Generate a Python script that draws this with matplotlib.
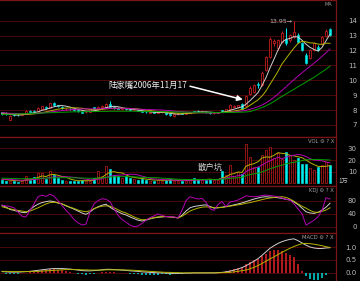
import numpy as np
import matplotlib.pyplot as plt

# ---- price data (one entry per trading day) ----
open_ = [7.85, 7.8, 7.35, 7.72, 7.7, 7.7, 7.75, 7.95, 7.95, 7.82,
         8.08, 8.2, 8.15, 8.45, 8.32, 8.2, 8.05, 8.08, 8.05, 8.0,
         7.9, 7.85, 7.9, 8.18, 8.1, 8.18, 8.22, 8.38, 8.22, 8.15,
         8.08, 8.12, 8.08, 7.98, 8.0, 7.95, 7.9, 7.82, 7.86, 7.8,
         7.85, 7.85, 7.75, 7.58, 7.72, 7.8, 7.76, 7.8, 7.92, 7.95,
         7.88, 7.9, 7.85, 7.77, 7.8, 8.0, 7.96, 8.05, 8.22, 8.2,
         8.42, 8.25, 9.05, 9.22, 9.72, 9.7, 10.72, 11.58, 12.5, 12.2,
         12.6, 12.8, 12.72, 12.92, 13.05, 12.5, 11.72, 11.5, 12.05, 12.25,
         12.42, 12.95, 13.45]
close = [7.75, 7.72, 7.6, 7.66, 7.65, 7.75, 7.93, 7.88, 7.88, 8.12,
         8.27, 8.12, 8.48, 8.35, 8.25, 8.12, 8.1, 8.04, 7.98, 7.94,
         7.82, 7.9, 8.05, 8.1, 8.2, 8.28, 8.42, 8.22, 8.15, 8.07,
         8.12, 8.05, 8.0, 8.02, 7.95, 7.88, 7.84, 7.86, 7.8, 7.85,
         7.92, 7.72, 7.66, 7.74, 7.78, 7.76, 7.82, 7.86, 7.88, 7.9,
         7.93, 7.84, 7.78, 7.82, 7.85, 7.95, 8.08, 8.32, 8.3, 8.32,
         8.1, 8.92, 9.5, 9.65, 9.66, 10.52, 11.55, 12.75, 12.62, 12.7,
         13.15, 12.52, 13.05, 13.22, 12.6, 12.05, 11.18, 12.0, 12.5, 12.05,
         12.9, 13.3, 13.02]
high = [7.9, 7.85, 7.65, 7.75, 7.75, 7.8, 7.98, 8.0, 7.98, 8.18,
        8.3, 8.25, 8.5, 8.55, 8.35, 8.25, 8.15, 8.12, 8.08, 8.02,
        7.92, 7.95, 8.08, 8.22, 8.25, 8.32, 8.45, 8.6, 8.25, 8.18,
        8.15, 8.15, 8.1, 8.05, 8.03, 7.98, 7.93, 7.9, 7.88, 7.88,
        7.95, 7.88, 7.78, 7.78, 7.82, 7.83, 7.85, 7.9, 7.95, 7.98,
        7.96, 7.93, 7.88, 7.85, 7.88, 8.03, 8.1, 8.38, 8.35, 8.36,
        8.45, 8.98, 9.6, 9.72, 9.85, 10.6, 11.62, 12.9, 12.75, 12.8,
        13.3, 13.5, 13.1, 13.95, 13.2, 12.6, 11.85, 12.1, 12.6, 12.4,
        13.0, 13.45, 13.5]
low = [7.7, 7.65, 7.3, 7.6, 7.6, 7.65, 7.72, 7.85, 7.84, 7.8,
       8.05, 8.08, 8.12, 8.3, 8.2, 8.1, 8.0, 8.0, 7.95, 7.9,
       7.78, 7.82, 7.88, 8.05, 8.08, 8.15, 8.2, 8.2, 8.1, 8.04,
       8.05, 8.02, 7.97, 7.95, 7.92, 7.85, 7.82, 7.8, 7.78, 7.78,
       7.83, 7.7, 7.62, 7.55, 7.7, 7.73, 7.74, 7.78, 7.85, 7.87,
       7.85, 7.82, 7.75, 7.75, 7.78, 7.9, 7.93, 8.0, 8.18, 8.15,
       8.05, 8.2, 9.0, 9.15, 9.45, 9.62, 10.6, 11.5, 12.3, 12.05,
       12.5, 12.4, 12.6, 12.85, 12.5, 11.95, 11.1, 11.4, 11.95, 11.98,
       12.35, 12.9, 12.95]

# price moving averages as drawn on the chart
ma5 = [7.75, 7.74, 7.7, 7.68, 7.66, 7.68, 7.72, 7.76, 7.82, 7.88,
       7.98, 8.04, 8.14, 8.22, 8.28, 8.3, 8.26, 8.2, 8.12, 8.05,
       7.98, 7.93, 7.92, 7.95, 8.0, 8.08, 8.16, 8.22, 8.25, 8.22,
       8.16, 8.1, 8.06, 8.04, 8.0, 7.96, 7.92, 7.88, 7.85, 7.84,
       7.84, 7.82, 7.78, 7.75, 7.72, 7.74, 7.77, 7.8, 7.84, 7.87,
       7.88, 7.88, 7.86, 7.84, 7.82, 7.84, 7.9, 7.98, 8.06, 8.14,
       8.22, 8.39, 8.63, 8.9, 9.17, 9.65, 10.18, 10.83, 11.42, 12.03,
       12.55, 12.75, 12.81, 12.93, 12.91, 12.69, 12.42, 12.21, 12.07, 11.96,
       12.2, 12.65, 13.1]
ma10 = [7.8, 7.78, 7.76, 7.74, 7.72, 7.71, 7.71, 7.72, 7.74, 7.77,
        7.82, 7.88, 7.94, 8.0, 8.06, 8.1, 8.13, 8.15, 8.15, 8.14,
        8.12, 8.08, 8.04, 8.02, 8.02, 8.04, 8.08, 8.1, 8.12, 8.12,
        8.12, 8.12, 8.11, 8.1, 8.07, 8.04, 8.01, 7.97, 7.93, 7.9,
        7.88, 7.86, 7.84, 7.81, 7.79, 7.78, 7.78, 7.79, 7.8, 7.81,
        7.82, 7.82, 7.82, 7.82, 7.83, 7.85, 7.87, 7.9, 7.93, 7.98,
        8.04, 8.14, 8.32, 8.5, 8.68, 8.94, 9.28, 9.73, 10.16, 10.6,
        11.1, 11.46, 11.82, 12.17, 12.47, 12.62, 12.58, 12.51, 12.5, 12.43,
        12.41, 12.49, 12.48]
ma20 = [7.82, 7.8, 7.78, 7.77, 7.76, 7.75, 7.75, 7.76, 7.77, 7.79,
        7.81, 7.84, 7.87, 7.9, 7.93, 7.96, 7.99, 8.02, 8.04, 8.06,
        8.07, 8.08, 8.08, 8.08, 8.08, 8.09, 8.1, 8.11, 8.12, 8.12,
        8.12, 8.11, 8.1, 8.08, 8.06, 8.05, 8.04, 8.03, 8.02, 8.01,
        8.0, 7.98, 7.96, 7.93, 7.91, 7.89, 7.87, 7.85, 7.84, 7.83,
        7.82, 7.82, 7.81, 7.81, 7.81, 7.82, 7.83, 7.85, 7.87, 7.9,
        7.93, 7.98, 8.05, 8.13, 8.22, 8.34, 8.48, 8.66, 8.86, 9.08,
        9.32, 9.56, 9.8, 10.04, 10.28, 10.5, 10.72, 10.94, 11.15, 11.36,
        11.6, 11.85, 12.1]
ma60 = [7.7, 7.71, 7.72, 7.73, 7.74, 7.75, 7.76, 7.77, 7.78, 7.79,
        7.8, 7.81, 7.82, 7.83, 7.84, 7.85, 7.86, 7.87, 7.88, 7.88,
        7.89, 7.89, 7.9, 7.9, 7.9, 7.91, 7.91, 7.92, 7.92, 7.92,
        7.92, 7.92, 7.92, 7.92, 7.91, 7.91, 7.91, 7.9, 7.9, 7.9,
        7.89, 7.89, 7.88, 7.88, 7.87, 7.87, 7.86, 7.86, 7.86, 7.85,
        7.85, 7.85, 7.85, 7.84, 7.84, 7.84, 7.84, 7.84, 7.84, 7.85,
        7.86, 7.87, 7.9, 7.98, 8.07, 8.17, 8.28, 8.42, 8.58, 8.75,
        8.92, 9.08, 9.24, 9.4, 9.56, 9.72, 9.88, 10.04, 10.2, 10.38,
        10.56, 10.74, 10.95]

# ---- volume (万手) ----
volume = [3, 2.5, 2, 2, 1.5, 2.5, 6.3, 3, 5.5, 8.5,
          8.5, 4, 10.5, 7, 5, 3, 2, 2, 2.5, 2,
          3, 2, 2.5, 4.5, 10.5, 6, 14.5, 12.5, 7, 6,
          5, 6, 5, 4, 3, 3.5, 3, 2.5, 2.5, 3,
          2.5, 3, 3.5, 2.5, 2, 2, 2.5, 3, 4.5, 3.5,
          3, 3, 4, 3, 3, 10.5, 7, 15.5, 6, 10,
          8, 34, 22.5, 14, 14.3, 24, 28.5, 31, 22, 26,
          21, 27, 24, 20, 22, 17, 17, 13, 11.5, 14.3,
          16, 18.5, 15.5]
vol_ma5 = [3.5, 3.2, 2.8, 2.5, 2.3, 2.1, 2.9, 3.0, 3.8, 5.2,
           6.4, 5.9, 7.4, 7.7, 7.0, 5.9, 5.5, 3.8, 2.9, 2.3,
           2.3, 2.3, 2.4, 2.8, 4.5, 5.1, 7.6, 9.6, 10.1, 9.2,
           9.0, 7.3, 5.8, 5.2, 4.6, 4.3, 3.7, 3.2, 2.9, 2.9,
           2.7, 2.7, 2.9, 2.8, 2.7, 2.6, 2.5, 2.4, 2.9, 3.1,
           3.3, 3.4, 3.6, 3.3, 3.2, 4.7, 5.5, 7.7, 8.4, 9.8,
           9.4, 14.7, 16.1, 16.9, 18.6, 21.8, 22.7, 22.4, 24.0, 26.3,
           25.7, 25.4, 24.0, 23.6, 22.8, 22.0, 20.0, 17.8, 16.1, 14.6,
           14.4, 14.7, 15.2]
vol_ma10 = [3.6, 3.5, 3.3, 3.1, 2.9, 2.7, 3.0, 3.0, 3.3, 3.7,
            4.3, 4.4, 5.2, 5.4, 5.6, 5.6, 5.7, 5.5, 5.2, 4.7,
            4.2, 3.6, 3.1, 3.1, 3.6, 3.9, 5.1, 6.2, 6.6, 7.0,
            7.2, 7.6, 7.8, 7.8, 7.3, 6.2, 5.4, 4.3, 3.9, 3.6,
            3.4, 3.1, 3.0, 2.8, 2.8, 2.7, 2.6, 2.6, 2.8, 2.9,
            2.9, 2.9, 3.1, 3.2, 3.3, 4.1, 4.5, 5.6, 5.9, 6.6,
            7.1, 10.1, 11.9, 12.9, 14.0, 15.7, 17.9, 19.3, 21.0, 22.3,
            21.0, 22.5, 23.5, 24.1, 24.9, 24.2, 23.0, 21.2, 19.9, 19.8,
            19.3, 18.5, 17.5]
vol_ma20 = [4.5, 4.4, 4.3, 4.2, 4.1, 4.0, 4.1, 4.1, 4.2, 4.3,
            4.5, 4.5, 4.7, 4.8, 4.9, 4.9, 4.9, 4.8, 4.8, 4.7,
            4.6, 4.5, 4.4, 4.4, 4.6, 4.7, 5.1, 5.5, 5.6, 5.8,
            5.8, 5.8, 5.7, 5.6, 5.4, 5.2, 5.1, 5.0, 4.9, 4.8,
            4.5, 4.3, 4.1, 3.8, 3.6, 3.5, 3.4, 3.3, 3.3, 3.3,
            3.3, 3.3, 3.4, 3.4, 3.4, 3.7, 3.9, 4.4, 4.6, 4.9,
            5.2, 6.6, 7.6, 8.2, 8.8, 9.8, 11.1, 12.6, 13.6, 14.8,
            15.6, 16.8, 17.5, 18.0, 18.9, 19.5, 20.1, 20.4, 20.5, 20.6,
            20.3, 20.2, 20.0]

# ---- KDJ ----
kdj_k = [66, 60, 53, 50, 47, 44, 43, 52, 62, 69,
         74, 77, 79, 77, 73, 70, 64, 59, 54, 48,
         42, 38, 45, 55, 61, 66, 69, 60, 52, 46,
         40, 36, 30, 25, 20, 17.5, 20, 24, 27, 29,
         30, 31, 30, 29, 27, 35, 48, 58, 62, 64,
         66, 67, 62, 57, 58, 60, 62, 64, 67, 70,
         73, 77, 81, 85, 88, 91, 92, 91, 90, 89,
         87, 84, 82, 76, 68, 57, 46, 42, 41, 44,
         51, 60, 72]
kdj_d = [61.5, 58, 55, 52, 50, 48, 46, 48, 53, 58,
         64, 70, 74, 75, 73, 70, 65, 60, 56, 51,
         48, 46, 49, 55, 60, 63, 64, 63, 58, 52,
         46, 42, 36, 30, 25, 21, 22, 25, 28, 30,
         31, 31, 30, 29, 27, 32, 40, 48, 53, 57,
         60, 61, 60, 59, 58.5, 59, 61, 63, 65, 67,
         69, 72, 74, 77, 80, 83, 86, 88, 90, 91,
         92, 90, 85, 78, 70, 63, 57, 50, 45, 44,
         47, 51, 58]
kdj_j = [66, 64, 62, 58, 45, 32, 30, 50, 70, 92,
         97, 93, 100, 94, 80, 65, 50, 38, 22, 12,
         5, 8, 45, 70, 80, 86, 84, 77, 55, 35,
         22, 14, 5, 0, 2, 10, 20, 28, 33, 39,
         35, 31, 31, 30, 27, 50, 80, 92, 88, 85,
         87, 75, 55, 50, 68, 77, 62, 76, 78, 82,
         88, 95, 93, 92, 93, 96, 97, 96, 94, 92,
         88, 84, 82, 70, 55, 40, 5, 12, 20, 30,
         50, 89, 85]

# ---- MACD ----
dif = [0.04, 0.03, 0.02, 0.02, 0.02, 0.03, 0.04, 0.05, 0.07, 0.09,
       0.11, 0.13, 0.15, 0.16, 0.16, 0.16, 0.15, 0.14, 0.12, 0.1,
       0.08, 0.07, 0.07, 0.08, 0.09, 0.11, 0.13, 0.13, 0.12, 0.11,
       0.1, 0.09, 0.07, 0.06, 0.05, 0.03, 0.02, 0.01, 0.0, -0.01,
       -0.01, -0.02, -0.03, -0.03, -0.03, -0.03, -0.02, -0.02, -0.01, -0.01,
       -0.01, -0.01, -0.01, -0.01, 0.0, 0.01, 0.03, 0.06, 0.1, 0.14,
       0.2, 0.27, 0.36, 0.45, 0.55, 0.68, 0.82, 0.96, 1.06, 1.15,
       1.22, 1.27, 1.31, 1.33, 1.26, 1.17, 1.08, 1.01, 0.97, 0.95,
       0.95, 0.97, 0.98]
dea = [0.05, 0.05, 0.04, 0.04, 0.04, 0.04, 0.04, 0.04, 0.05, 0.05,
       0.06, 0.07, 0.08, 0.09, 0.1, 0.11, 0.12, 0.12, 0.12, 0.12,
       0.11, 0.11, 0.1, 0.1, 0.1, 0.1, 0.11, 0.11, 0.11, 0.11,
       0.11, 0.1, 0.1, 0.09, 0.08, 0.07, 0.06, 0.05, 0.04, 0.03,
       0.02, 0.01, 0.01, 0.0, 0.0, -0.01, -0.01, -0.01, -0.01, -0.01,
       -0.01, -0.01, -0.01, -0.01, -0.01, 0.0, 0.0, 0.01, 0.03, 0.05,
       0.08, 0.1, 0.15, 0.21, 0.28, 0.36, 0.45, 0.54, 0.62, 0.71,
       0.8, 0.88, 0.96, 1.03, 1.09, 1.14, 1.15, 1.14, 1.12, 1.09,
       1.06, 1.02, 0.99]

N = len(close)
W, H = 360, 281
XRIGHT = 336          # pixel where the right scale column starts

RED = '#c41e1e'
VRED = '#a81818'
CYAN = '#00f0f0'
GRID = '#4a0808'
BORDER = '#7c1414'
LABEL = '#bcbcbc'
WHITE_L = '#cfcfcf'
YELLOW_L = '#b4b400'
MAGENTA_L = '#b400b4'
GREEN_L = '#00a000'
CJK = ['Noto Sans CJK SC', 'DejaVu Sans']

plt.rcParams['font.family'] = ['DejaVu Sans']

fig = plt.figure(figsize=(W / 100, H / 100), dpi=100, facecolor='black')


def panel(top, bottom):
    """Axes spanning pixel rows top..bottom, left of the scale column"""
    return fig.add_axes([0, 1 - bottom / H, XRIGHT / W, (bottom - top) / H],
                        facecolor='black')


def style(ax, ylim, ticks, labels):
    ax.set_xlim(-0.5, N + 0.5)
    ax.set_ylim(*ylim)
    ax.set_xticks([])
    ax.set_yticks(ticks)
    ax.set_yticklabels(labels)
    ax.yaxis.tick_right()
    ax.tick_params(axis='y', length=0, pad=15, labelsize=5, labelcolor=LABEL)
    for t in ax.get_yticklabels():
        t.set_horizontalalignment('right')
    ax.grid(axis='y', color=GRID, linewidth=0.7)
    ax.set_axisbelow(True)
    ax.spines['left'].set_visible(False)
    for s in ['top', 'right', 'bottom']:
        ax.spines[s].set_color(BORDER)
        ax.spines[s].set_linewidth(0.9)


x = np.arange(N)
o = np.array(open_)
c = np.array(close)
hi = np.array(high)
lo = np.array(low)
up = c >= o

# 1. Candlesticks + MA
ax1 = panel(0, 137)
style(ax1, (6.19, 15.39), range(7, 15), [str(v) for v in range(7, 15)])

top_body = np.maximum(o, c)
bot_body = np.minimum(o, c)
colors = np.where(up, RED, CYAN)
ax1.vlines(x, top_body, hi, colors=colors, linewidth=0.7)
ax1.vlines(x, lo, bot_body, colors=colors, linewidth=0.7)
heights = np.maximum(top_body - bot_body, 0.03)
ax1.bar(x[up], heights[up], bottom=bot_body[up], width=0.72,
        facecolor='black', edgecolor=RED, linewidth=0.6, zorder=3)
ax1.bar(x[~up], heights[~up], bottom=bot_body[~up], width=0.72,
        facecolor=CYAN, edgecolor=CYAN, linewidth=0.4, zorder=3)

ax1.plot(x, ma5, color=WHITE_L, linewidth=0.7, zorder=4)
ax1.plot(x, ma10, color=YELLOW_L, linewidth=0.7, zorder=4)
ax1.plot(x, ma20, color=MAGENTA_L, linewidth=0.7, zorder=4)
ax1.plot(x, ma60, color=GREEN_L, linewidth=0.7, zorder=4)

imax = int(np.argmax(hi))
ax1.text(imax - 0.4, hi[imax], f'{hi[imax]:.2f}\u2192', ha='right', va='center',
         fontsize=4.5, color=LABEL)
ax1.text(0.988, 0.985, 'MA', transform=ax1.transAxes, ha='right', va='top',
         fontsize=3.5, color='#a0a0a0')

ax1.text(26.5, 9.68, '陆家嘴2006年11月17', family=CJK, fontsize=6,
         color='#eeeeee', ha='left', va='center')
ax1.annotate('', xy=(60.2, 8.7), xytext=(47, 9.6),
             arrowprops=dict(arrowstyle='-|>', color='white', lw=1.1,
                             mutation_scale=8, shrinkA=0, shrinkB=0))

# 2. Volume
ax2 = panel(137, 186)
style(ax2, (-2.2, 39.7), [10, 20, 30], ['10', '20', '30'])
v = np.array(volume)
ax2.bar(x[up], v[up], width=0.72, facecolor='black', edgecolor=VRED,
        linewidth=0.6, zorder=3)
ax2.bar(x[~up], v[~up], width=0.72, facecolor=CYAN, edgecolor=CYAN,
        linewidth=0.4, zorder=3)
ax2.plot(x, vol_ma5, color=YELLOW_L, linewidth=0.7, zorder=4)
ax2.plot(x, vol_ma10, color=MAGENTA_L, linewidth=0.7, zorder=4)
ax2.plot(x, vol_ma20, color=GREEN_L, linewidth=0.7, zorder=4)
ax2.text(0.994, 0.96, 'VOL \u2699 ? X', transform=ax2.transAxes, ha='right',
         va='top', fontsize=3.8, color='#a0a0a0')
ax2.text(49, 14, '散户坑', family=CJK, fontsize=6, color='#d8d8d8',
         ha='left', va='center')
fig.text(338 / W, 1 - 181 / H, '1万', family=CJK, fontsize=4.5, color=LABEL,
         ha='left', va='center')

# 3. KDJ
ax3 = panel(186, 233)
style(ax3, (-19.4, 125), [0, 40, 80], ['0', '40', '80'])
ax3.plot(x, kdj_k, color=WHITE_L, linewidth=0.7)
ax3.plot(x, kdj_d, color=YELLOW_L, linewidth=0.7)
ax3.plot(x, kdj_j, color=MAGENTA_L, linewidth=0.7)
ax3.text(0.994, 0.96, 'KDJ \u2699 ? X', transform=ax3.transAxes, ha='right',
         va='top', fontsize=3.8, color='#a0a0a0')

# 4. MACD
ax4 = panel(233, 281)
style(ax4, (-0.33, 1.56), [0.0, 0.5, 1.0], ['0.0', '0.5', '1.0'])
ax4.spines['bottom'].set_visible(False)
hist = 2 * (np.array(dif) - np.array(dea))
ax4.bar(x, hist, width=0.4, color=np.where(hist >= 0, '#b01a1a', '#00a8a8'),
        linewidth=0, zorder=3)
ax4.plot(x, dif, color=WHITE_L, linewidth=0.7, zorder=4)
ax4.plot(x, dea, color=YELLOW_L, linewidth=0.7, zorder=4)
ax4.text(0.994, 0.96, 'MACD \u2699 ? X', transform=ax4.transAxes, ha='right',
         va='top', fontsize=3.8, color='#a0a0a0')

fig.savefig('out.png', dpi=100, facecolor='black')
